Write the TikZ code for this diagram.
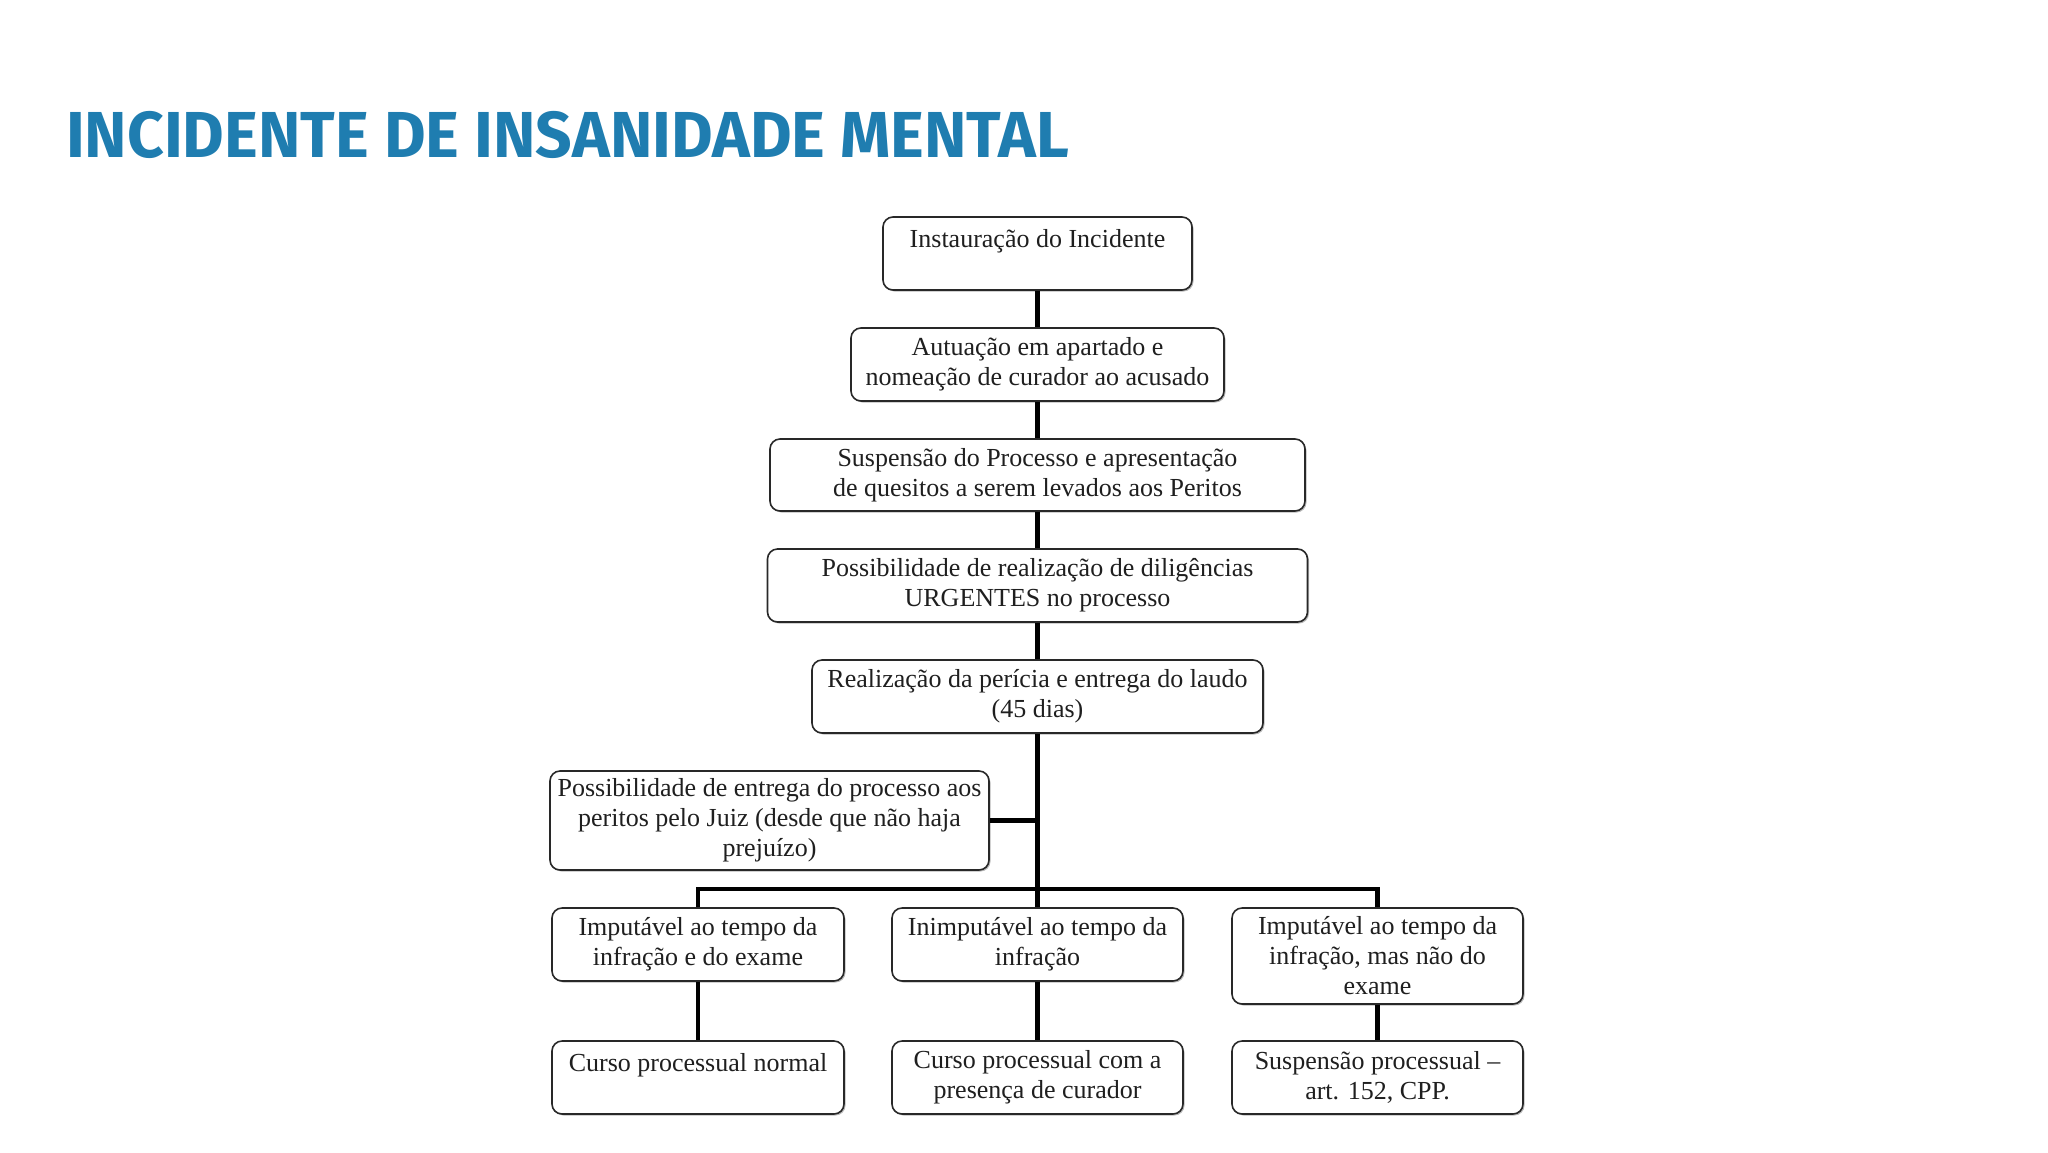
\documentclass[tikz,border=0pt]{standalone}
\usepackage{fontspec}
\setmainfont{Liberation Serif}
\newfontfamily\titlefont[FakeStretch=0.985]{Fira Sans}
\usetikzlibrary{shadows}
\definecolor{titleblue}{RGB}{31,125,176}
\definecolor{boxline}{RGB}{40,40,40}
\begin{document}
\begin{tikzpicture}[x=1pt,y=-1pt,
  box/.style={draw=boxline, line width=1.6pt, rounded corners=10pt, fill=white,
    align=center, inner sep=0pt, text=black!88,
    font=\fontsize{26}{30}\selectfont,
    drop shadow={shadow xshift=1.5pt, shadow yshift=-1.5pt, fill=black!45, opacity=0.6}},
  conn/.style={line width=4.2pt, draw=black}]
\useasboundingbox (0,0) rectangle (2048,1152);
\fill[white] (0,0) rectangle (2048,1152);
\node[anchor=base west, inner sep=0pt, text=titleblue, font=\titlefont\bfseries\fontsize{65}{78}\selectfont] (title) at (66,157) {INCIDENTE DE INSANIDADE MENTAL};

\node[box, minimum width=309pt, minimum height=73pt] (b1) at (1037.5,253.5) {Instauração do Incidente\\\mbox{}};
\node[box, minimum width=373pt, minimum height=73pt] (b2) at (1037.5,364.5) {Autuação em apartado e\\nomeação de curador ao acusado};
\node[box, minimum width=535pt, minimum height=72pt] (b3) at (1037.5,475) {Suspensão do Processo e apresentação\\de quesitos a serem levados aos Peritos};
\node[box, minimum width=540pt, minimum height=73pt] (b4) at (1037.5,585.5) {Possibilidade de realização de diligências\\URGENTES no processo};
\node[box, minimum width=451pt, minimum height=73pt] (b5) at (1037.5,696.5) {Realização da perícia e entrega do laudo\\(45 dias)};
\node[box, minimum width=439pt, minimum height=99pt] (side) at (769.5,820.5) {Possibilidade de entrega do processo aos\\peritos pelo Juiz (desde que não haja\\prejuízo)};

\node[box, minimum width=292pt, minimum height=73pt] (r1) at (698,944.5) {Imputável ao tempo da\\infração e do exame};
\node[box, minimum width=291pt, minimum height=73pt] (r2) at (1037.5,944.5) {Inimputável ao tempo da\\infração};
\node[box, minimum width=291pt, minimum height=96pt] (r3) at (1377.5,956) {Imputável ao tempo da\\infração, mas não do\\exame};

\node[box, minimum width=292pt, minimum height=73pt] (d1) at (698,1077.5) {Curso processual normal\\\mbox{}};
\node[box, minimum width=291pt, minimum height=73pt] (d2) at (1037.5,1077.5) {Curso processual com a\\presença de curador};
\node[box, minimum width=291pt, minimum height=73pt] (d3) at (1377.5,1077.5) {Suspensão processual –\\art. 152, CPP.};

\coordinate (bar) at (1037.5,889);
\draw[conn] (b1.south) -- (b2.north);
\draw[conn] (b2.south) -- (b3.north);
\draw[conn] (b3.south) -- (b4.north);
\draw[conn] (b4.south) -- (b5.north);
\draw[conn] (b5.south) -- (r2.north);
\draw[conn] (side.east) -- (side.east -| b5.south);
\draw[conn] (r1.north) |- (bar) -| (r3.north);
\draw[conn] (r1.south) -- (d1.north);
\draw[conn] (r2.south) -- (d2.north);
\draw[conn] (r3.south) -- (d3.north);
\end{tikzpicture}
\end{document}
